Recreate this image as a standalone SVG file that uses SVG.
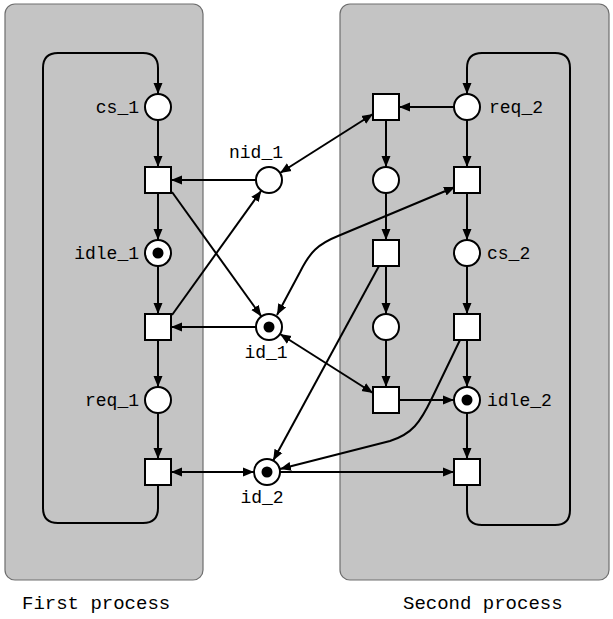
<svg xmlns="http://www.w3.org/2000/svg" width="613" height="619" viewBox="0 0 613 619">
<style>
.panel{fill:#c4c4c4;stroke:#6e6e6e;stroke-width:1.2}
.pl{fill:#fff;stroke:#000;stroke-width:2}
.tr{fill:#fff;stroke:#000;stroke-width:2}
.tok{fill:#000}
.arc{fill:none;stroke:#000;stroke-width:2;marker-end:url(#ah)}
.bi{marker-start:url(#ah)}
.lbl{font-family:"Liberation Mono","Courier New",monospace;font-size:18px;fill:#000}
.cap{font-family:"Liberation Mono","Courier New",monospace;font-size:19px;fill:#000}
</style>
<defs>
<marker id="ah" markerUnits="userSpaceOnUse" markerWidth="12" markerHeight="10" refX="11" refY="5" orient="auto-start-reverse">
<path d="M0,0.5 L11,5 L0,9.5 Z" fill="#000"/>
</marker>
</defs>
<rect width="613" height="619" fill="#fff"/>
<g id="panels">
<rect class="panel" x="5" y="4" width="198" height="576" rx="10"/>
<rect class="panel" x="340" y="4" width="269" height="576" rx="10"/>
</g>
<g id="connectors">
<path class="arc" d="M158,485 V508 Q158,523 143,523 H58 Q43,523 43,508 V68 Q43,53 58,53 H143 Q158,53 158,68 V94"/>
<path class="arc" d="M158,120 V167"/>
<path class="arc" d="M158,193 V240"/>
<path class="arc" d="M158,266 V314"/>
<path class="arc" d="M158,340 V387"/>
<path class="arc" d="M158,413 V459"/>
<path class="arc" d="M256,180 H171"/>
<path class="arc" d="M172,192 L261.4,316.4"/>
<path class="arc" d="M172,315 L261.4,190.5"/>
<path class="arc" d="M256,327 H171"/>
<path class="arc bi" d="M280,173 L373,114"/>
<path class="arc bi" d="M280,334 L373,393"/>
<path class="arc bi" d="M277,315 L300,272 C310,252 318,244 338,236 L455,187"/>
<path class="arc" d="M386,120 V167"/>
<path class="arc" d="M386,193 V240"/>
<path class="arc" d="M386,266 V314"/>
<path class="arc" d="M386,340 V387"/>
<path class="arc" d="M455,107 H399"/>
<path class="arc" d="M467,120 V167"/>
<path class="arc" d="M467,193 V240"/>
<path class="arc" d="M467,266 V314"/>
<path class="arc" d="M467,340 V387"/>
<path class="arc" d="M467,413 V459"/>
<path class="arc" d="M399,400 H454"/>
<path class="arc" d="M467,485 V510 Q467,525 482,525 H555 Q570,525 570,510 V68 Q570,53 555,53 H482 Q467,53 467,68 V94"/>
<path class="arc" d="M379,266 L273.2,460.6"/>
<path class="arc" d="M460,340 L432,398 C420,423 412,434 390,441 L280,469"/>
<path class="arc" d="M280,472 H454"/>
<path class="arc bi" d="M171,472 H254"/>
</g>
<g id="cs_1"><circle class="pl" cx="158" cy="107" r="13"/><text class="lbl" x="139" y="113" text-anchor="end">cs_1</text></g>
<g id="t1"><rect class="tr" x="145" y="167" width="26" height="26"/></g>
<g id="idle_1"><circle class="pl" cx="158" cy="253" r="13"/><circle class="tok" cx="158" cy="253" r="5.5"/><text class="lbl" x="139" y="259" text-anchor="end">idle_1</text></g>
<g id="t2"><rect class="tr" x="145" y="314" width="26" height="26"/></g>
<g id="req_1"><circle class="pl" cx="158" cy="400" r="13"/><text class="lbl" x="139" y="406" text-anchor="end">req_1</text></g>
<g id="t3"><rect class="tr" x="145" y="459" width="26" height="26"/></g>
<g id="nid_1"><circle class="pl" cx="269" cy="180" r="13"/><text class="lbl" x="256" y="158" text-anchor="middle">nid_1</text></g>
<g id="id_1"><circle class="pl" cx="269" cy="327" r="13"/><circle class="tok" cx="269" cy="327" r="5.5"/><text class="lbl" x="266" y="358" text-anchor="middle">id_1</text></g>
<g id="id_2"><circle class="pl" cx="267" cy="472" r="13"/><circle class="tok" cx="267" cy="472" r="5.5"/><text class="lbl" x="262" y="503" text-anchor="middle">id_2</text></g>
<g id="ta1"><rect class="tr" x="373" y="94" width="26" height="26"/></g>
<g id="pa"><circle class="pl" cx="386" cy="180" r="13"/></g>
<g id="ta2"><rect class="tr" x="373" y="240" width="26" height="26"/></g>
<g id="pb"><circle class="pl" cx="386" cy="327" r="13"/></g>
<g id="ta3"><rect class="tr" x="373" y="387" width="26" height="26"/></g>
<g id="req_2"><circle class="pl" cx="467" cy="107" r="13"/><text class="lbl" x="489" y="113">req_2</text></g>
<g id="tb1"><rect class="tr" x="454" y="167" width="26" height="26"/></g>
<g id="cs_2"><circle class="pl" cx="467" cy="253" r="13"/><text class="lbl" x="487" y="259">cs_2</text></g>
<g id="tb2"><rect class="tr" x="454" y="314" width="26" height="26"/></g>
<g id="idle_2"><circle class="pl" cx="467" cy="400" r="13"/><circle class="tok" cx="467" cy="400" r="5.5"/><text class="lbl" x="487" y="406">idle_2</text></g>
<g id="tb3"><rect class="tr" x="454" y="459" width="26" height="26"/></g>
<g id="captions">
<text class="cap" x="22" y="609">First process</text>
<text class="cap" x="403" y="609">Second process</text>
</g>
</svg>
